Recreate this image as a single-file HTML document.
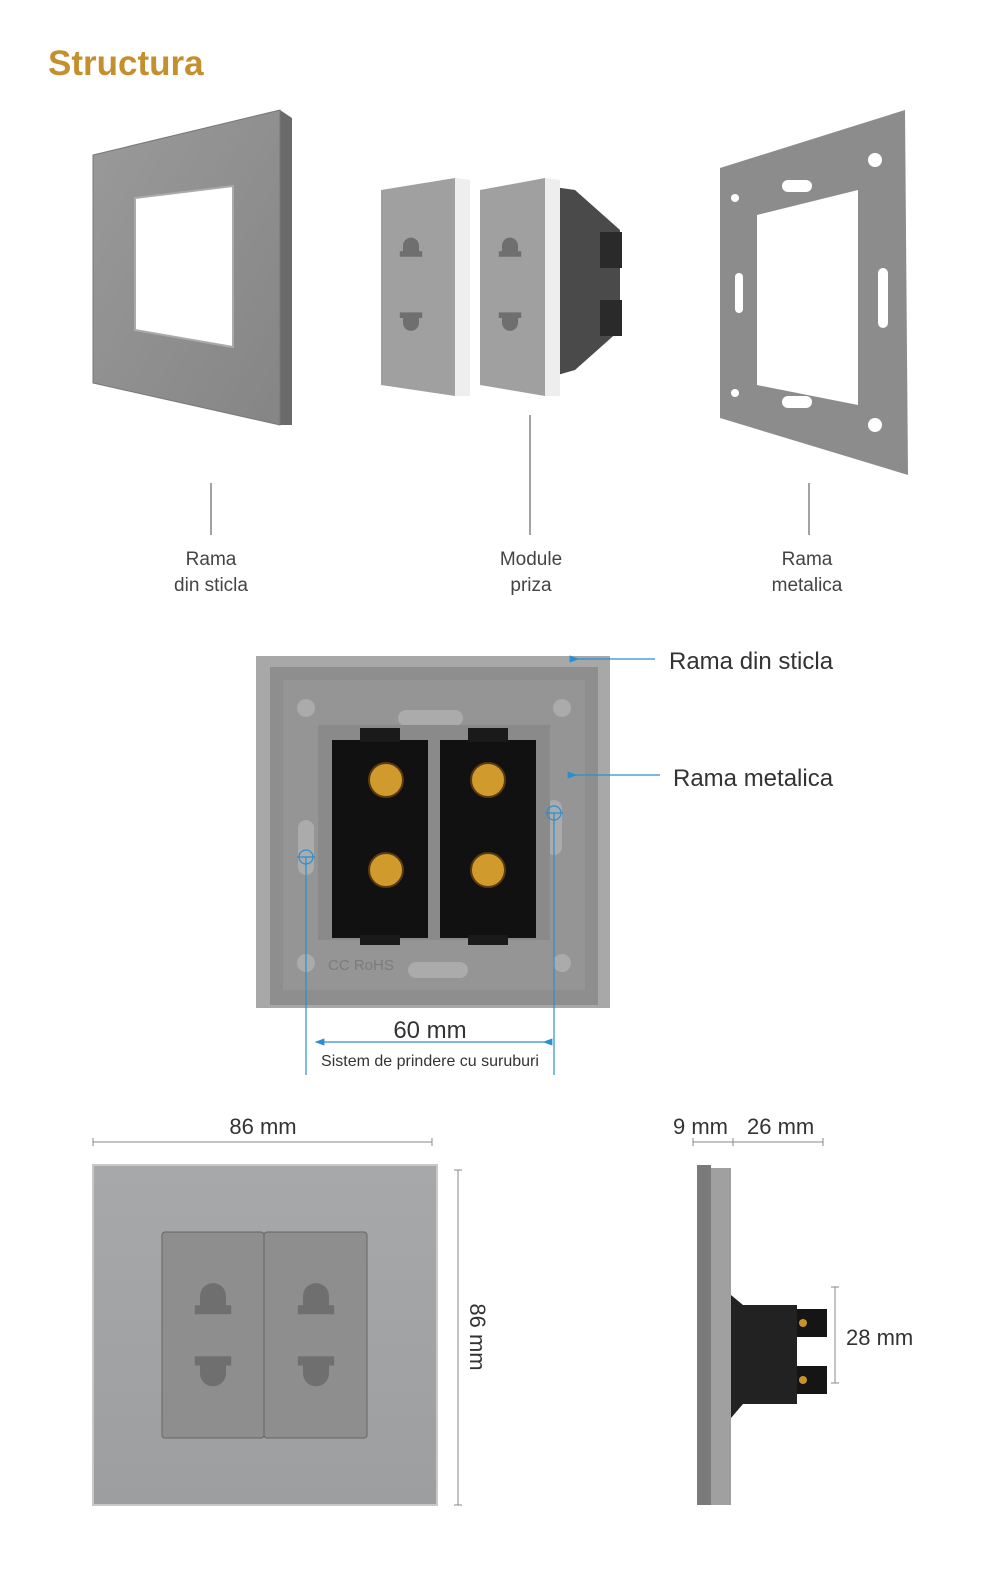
<!DOCTYPE html>
<html><head><meta charset="utf-8"><style>
html,body{margin:0;padding:0;background:#fff;overflow:hidden;width:1000px;height:1595px;}
svg{display:block;}
text{font-family:"Liberation Sans",sans-serif;}
</style></head><body>
<svg width="1000" height="1595" viewBox="0 0 1000 1595" xmlns="http://www.w3.org/2000/svg">
<defs>
<marker id="ar" markerWidth="8" markerHeight="6" refX="1" refY="3" orient="auto"><path d="M8,0 L0,3 L8,6z" fill="#2a8fd0"/></marker>
<linearGradient id="gf" x1="0" y1="0" x2="1" y2="1"><stop offset="0" stop-color="#9a9a9a"/><stop offset="1" stop-color="#858585"/></linearGradient>
<linearGradient id="gp" x1="0" y1="0" x2="0" y2="1"><stop offset="0" stop-color="#a6a8aa"/><stop offset="1" stop-color="#9c9ea0"/></linearGradient>
<path id="hu" d="M-10,4 v-7 a10,10 0 0 1 20,0 v7 h4 v7 h-28 v-7 z" fill="#6f6f6f"/>
<path id="hd" d="M-14,-12 h28 v7 h-4 v6 a10,10 0 0 1 -20,0 v-6 h-4 z" fill="#6f6f6f"/>
</defs>

<text x="48" y="75" font-size="35" font-weight="bold" fill="#c4902e">Structura</text>

<!-- glass frame -->
<polygon points="280,110 292,118 292,425 280,425" fill="#6a6a6a"/>
<polygon points="93,155 280,110 280,425 93,383" fill="url(#gf)" stroke="#777" stroke-width="1"/>
<polygon points="135,198 233,186 233,347 135,330" fill="#fff" stroke="#aaa" stroke-width="2"/>

<!-- modules -->
<polygon points="540,185 575,190 620,230 620,330 575,370 540,380" fill="#4a4a4a"/>
<rect x="600" y="232" width="22" height="36" fill="#2a2a2a"/>
<rect x="600" y="300" width="22" height="36" fill="#2a2a2a"/>
<polygon points="381,190 455,178 455,396 381,385" fill="#a0a0a0"/>
<polygon points="455,178 470,180 470,396 455,396" fill="#eee"/>
<polygon points="480,190 545,178 545,396 480,385" fill="#a0a0a0"/>
<polygon points="545,178 560,180 560,396 545,396" fill="#eee"/>
<use href="#hu" transform="translate(411,248) scale(0.8)"/>
<use href="#hd" transform="translate(411,322) scale(0.8)"/>
<use href="#hu" transform="translate(510,248) scale(0.8)"/>
<use href="#hd" transform="translate(510,322) scale(0.8)"/>

<!-- metal frame -->
<polygon points="720,168 905,110 908,475 720,418" fill="#8c8c8c"/>
<polygon points="757,215 858,190 858,405 757,385" fill="#fff"/>
<circle cx="875" cy="160" r="7" fill="#fff"/><circle cx="735" cy="198" r="4" fill="#fff"/>
<circle cx="735" cy="393" r="4" fill="#fff"/><circle cx="875" cy="425" r="7" fill="#fff"/>
<rect x="782" y="180" width="30" height="12" rx="6" fill="#fff"/>
<rect x="782" y="396" width="30" height="12" rx="6" fill="#fff"/>
<rect x="735" y="273" width="8" height="40" rx="4" fill="#fff"/>
<rect x="878" y="268" width="10" height="60" rx="5" fill="#fff"/>

<!-- labels top -->
<g stroke="#444" stroke-width="1"><line x1="211" y1="483" x2="211" y2="535"/><line x1="530" y1="415" x2="530" y2="535"/><line x1="809" y1="483" x2="809" y2="535"/></g>
<g font-size="19" fill="#444" text-anchor="middle">
<text x="211" y="565">Rama</text><text x="211" y="591">din sticla</text>
<text x="531" y="565">Module</text><text x="531" y="591">priza</text>
<text x="807" y="565">Rama</text><text x="807" y="591">metalica</text>
</g>

<!-- back view -->
<rect x="256" y="656" width="354" height="352" fill="#a8a8a8"/>
<rect x="270" y="667" width="328" height="338" fill="#8e8e8e"/>
<rect x="283" y="680" width="302" height="310" fill="#959595"/>
<circle cx="306" cy="708" r="9" fill="#ababab"/><circle cx="562" cy="708" r="9" fill="#ababab"/>
<circle cx="306" cy="963" r="9" fill="#ababab"/><circle cx="562" cy="963" r="9" fill="#ababab"/>
<rect x="398" y="710" width="65" height="16" rx="8" fill="#ababab"/>
<rect x="408" y="962" width="60" height="16" rx="8" fill="#ababab"/>
<rect x="298" y="820" width="16" height="55" rx="8" fill="#ababab"/>
<rect x="546" y="800" width="16" height="55" rx="8" fill="#ababab"/>
<rect x="318" y="725" width="232" height="215" fill="#8a8a8a"/>
<rect x="332" y="740" width="96" height="198" fill="#111"/>
<rect x="440" y="740" width="96" height="198" fill="#111"/>
<rect x="360" y="728" width="40" height="14" fill="#1a1a1a"/><rect x="468" y="728" width="40" height="14" fill="#1a1a1a"/>
<rect x="360" y="935" width="40" height="10" fill="#1a1a1a"/><rect x="468" y="935" width="40" height="10" fill="#1a1a1a"/>
<g fill="#d19a2c" stroke="#5a3a10" stroke-width="2"><circle cx="386" cy="780" r="17"/><circle cx="386" cy="870" r="17"/><circle cx="488" cy="780" r="17"/><circle cx="488" cy="870" r="17"/></g>
<text x="328" y="970" font-size="15" fill="#7c7c7c">CC RoHS</text>

<g stroke="#2a8fd0" stroke-width="1.2" fill="none">
<line x1="655" y1="659" x2="578" y2="659" marker-end="url(#ar)"/>
<line x1="660" y1="775" x2="576" y2="775" marker-end="url(#ar)"/>
<line x1="306" y1="857" x2="306" y2="1075"/><line x1="554" y1="813" x2="554" y2="1075"/>
<circle cx="306" cy="857" r="7"/><line x1="297" y1="857" x2="315" y2="857"/>
<circle cx="554" cy="813" r="7"/><line x1="545" y1="813" x2="563" y2="813"/>
<line x1="316" y1="1042" x2="544" y2="1042" marker-end="url(#ar)" marker-start="url(#ar)"/>
</g>
<g font-size="24" fill="#333">
<text x="669" y="669">Rama din sticla</text>
<text x="673" y="786">Rama metalica</text>
<text x="430" y="1038" text-anchor="middle">60 mm</text>
</g>
<text x="430" y="1066" font-size="16" fill="#333" text-anchor="middle">Sistem de prindere cu suruburi</text>

<!-- front view -->
<g stroke="#888" stroke-width="1"><line x1="93" y1="1142" x2="432" y2="1142"/><line x1="93" y1="1138" x2="93" y2="1146"/><line x1="432" y1="1138" x2="432" y2="1146"/>
<line x1="458" y1="1170" x2="458" y2="1505"/><line x1="454" y1="1170" x2="462" y2="1170"/><line x1="454" y1="1505" x2="462" y2="1505"/></g>
<text x="263" y="1134" font-size="22" fill="#333" text-anchor="middle">86 mm</text>
<text x="0" y="0" font-size="22" fill="#333" text-anchor="middle" transform="translate(470,1337) rotate(90)">86 mm</text>
<rect x="93" y="1165" width="344" height="340" fill="url(#gp)" stroke="#c8c8c8" stroke-width="2"/>
<rect x="162" y="1232" width="102" height="206" rx="3" fill="#8e8e8e" stroke="#666" stroke-width="1"/>
<rect x="264" y="1232" width="103" height="206" rx="3" fill="#8e8e8e" stroke="#666" stroke-width="1"/>
<use href="#hu" transform="translate(213,1300) scale(1.3)"/>
<use href="#hd" transform="translate(213,1372) scale(1.3)"/>
<use href="#hu" transform="translate(316,1300) scale(1.3)"/>
<use href="#hd" transform="translate(316,1372) scale(1.3)"/>

<!-- side view -->
<g stroke="#888" stroke-width="1"><line x1="693" y1="1142" x2="823" y2="1142"/><line x1="693" y1="1138" x2="693" y2="1146"/><line x1="733" y1="1138" x2="733" y2="1146"/><line x1="823" y1="1138" x2="823" y2="1146"/>
<line x1="835" y1="1287" x2="835" y2="1383"/><line x1="831" y1="1287" x2="839" y2="1287"/><line x1="831" y1="1383" x2="839" y2="1383"/></g>
<g font-size="22" fill="#333"><text x="673" y="1134">9 mm</text><text x="747" y="1134">26 mm</text><text x="846" y="1345">28 mm</text></g>
<rect x="697" y="1165" width="14" height="340" fill="#7a7a7a"/>
<rect x="711" y="1168" width="20" height="337" fill="#a0a0a0"/>
<polygon points="731,1295 743,1305 797,1305 797,1404 743,1404 731,1418" fill="#222"/>
<rect x="797" y="1309" width="30" height="28" fill="#151515"/>
<rect x="797" y="1366" width="30" height="28" fill="#151515"/>
<circle cx="803" cy="1323" r="4" fill="#c8922a"/><circle cx="803" cy="1380" r="4" fill="#c8922a"/>
</svg>
</body></html>
